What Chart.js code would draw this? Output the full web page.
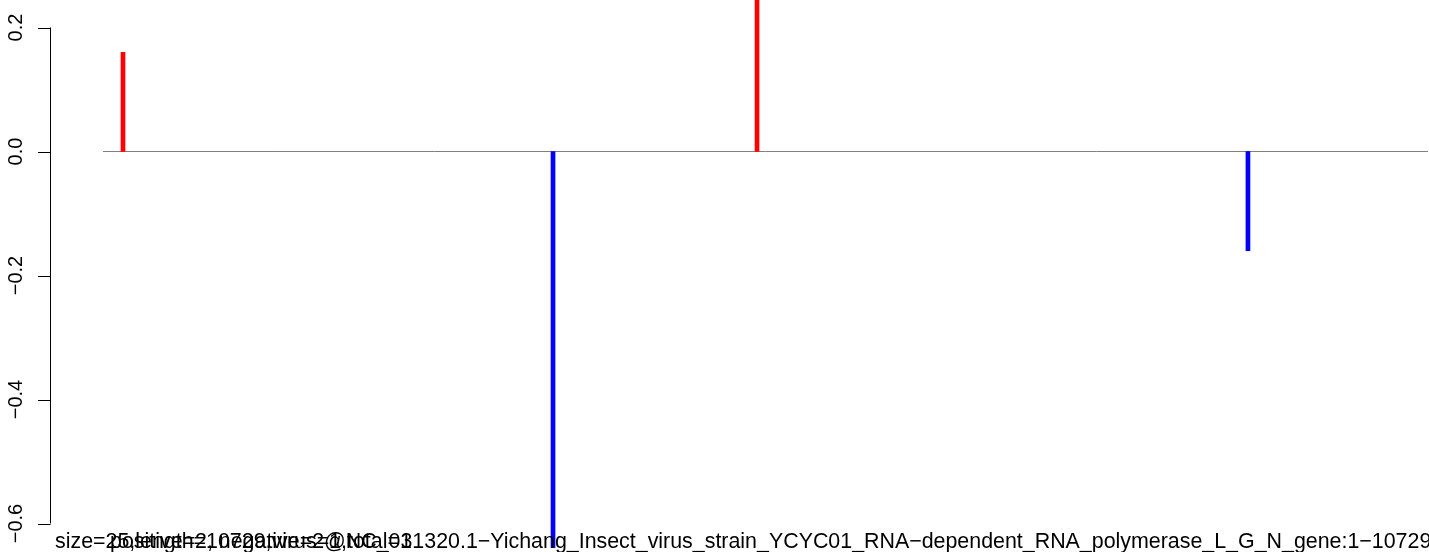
<!DOCTYPE html>
<html>
<head>
<meta charset="utf-8">
<script src="https://cdn.jsdelivr.net/npm/chart.js@4.4.1/dist/chart.umd.min.js"></script>
<style>
html,body{margin:0;padding:0;background:#fff;}
#wrap{width:1429px;height:552px;position:relative;}
</style>
</head>
<body>
<div id="wrap"><canvas id="c"></canvas></div>
<script>
// ---- data ----
const positions = [162, 3644, 5296, 9271];
const values = [0.16, -0.64, 0.28, -0.16];
const yTicks = [-0.6, -0.4, -0.2, 0.0, 0.2];
const genomeLength = 10729;
const labelA = "size=25,length=10729,virus=1,total=1";
const labelB = "positive=2, negative=2@NC_031320.1\u2212Yichang_Insect_virus_strain_YCYC01_RNA\u2212dependent_RNA_polymerase_L_G_N_gene:1\u221210729";

const fmt = v => (v < 0 ? "\u2212" : "") + Math.abs(v).toFixed(1);

const rAxis = {
  id: 'rAxis',
  afterDraw(chart) {
    const ctx = chart.ctx;
    const y = chart.scales.y;
    ctx.save();
    ctx.strokeStyle = '#000';
    ctx.lineWidth = 1;
    const top = y.getPixelForValue(yTicks[yTicks.length - 1]);
    const bot = y.getPixelForValue(yTicks[0]);
    ctx.beginPath();
    ctx.moveTo(50.5, top);
    ctx.lineTo(50.5, bot);
    yTicks.forEach(t => {
      const py = Math.round(y.getPixelForValue(t)) + 0.5;
      ctx.moveTo(38, py);
      ctx.lineTo(50.5, py);
    });
    ctx.stroke();
    ctx.fillStyle = '#000';
    ctx.font = "20px 'Liberation Sans', Arial, sans-serif";
    ctx.textAlign = 'center';
    ctx.textBaseline = 'alphabetic';
    yTicks.forEach(t => {
      const py = y.getPixelForValue(t);
      ctx.save();
      ctx.translate(22, py);
      ctx.rotate(-Math.PI / 2);
      ctx.fillText(fmt(t), 0, 0);
      ctx.restore();
    });
    ctx.font = "21.4px 'Liberation Sans', Arial, sans-serif";
    ctx.textAlign = 'left';
    ctx.fillText(labelA, 55, 548);
    ctx.fillText(labelB, 110, 548);
    ctx.restore();
  }
};

new Chart(document.getElementById('c'), {
  type: 'bar',
  data: {
    datasets: [
      {
        type: 'bar',
        data: positions.map((p, i) => ({x: p, y: values[i]})),
        backgroundColor: values.map(v => v >= 0 ? '#ff0000' : '#0000ff'),
        borderWidth: 0,
        barThickness: 4,
        order: 1
      },
      {
        type: 'line',
        data: [{x: 0, y: 0}, {x: genomeLength, y: 0}],
        borderColor: '#808080',
        borderWidth: 1,
        pointRadius: 0,
        fill: false,
        order: 2
      }
    ]
  },
  options: {
    responsive: true,
    maintainAspectRatio: false,
    animation: false,
    layout: {padding: {left: 50, top: 0, right: 0, bottom: 4}},
    plugins: {legend: {display: false}, tooltip: {enabled: false}},
    scales: {
      x: {type: 'linear', min: -429, max: 10737, offset: false, display: false},
      y: {type: 'linear', min: -0.6395, max: 0.2444, display: false}
    }
  },
  plugins: [rAxis]
});
</script>
</body>
</html>
